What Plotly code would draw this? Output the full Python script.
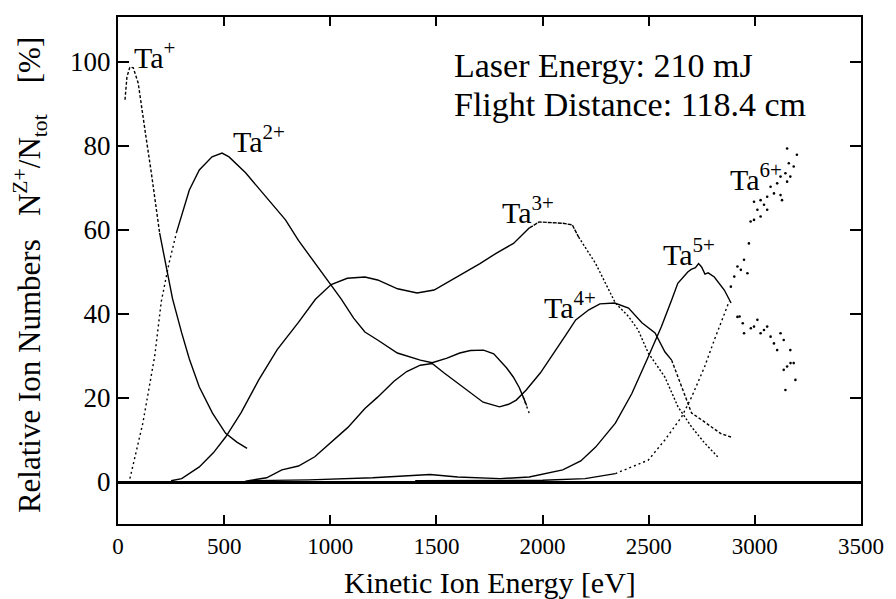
import plotly.graph_objects as go

# ---------------- data ----------------
ta1_x = [33, 42, 56, 72, 95, 110, 134, 157, 180, 196, 229, 257, 300, 336, 383, 445, 507, 560, 608]
ta1_y = [91, 96.4, 98.8, 98.6, 95, 89.4, 81.4, 73.6, 65.5, 59.3, 51, 43.6, 35.5, 29.3, 22.6, 16.4, 11.6, 9.5, 8]

ta2_x = [56, 90, 117, 145, 173, 204, 240, 275, 336, 383, 443, 490, 523, 601, 695, 789, 850, 930, 1004,
         1051, 1110, 1163, 1223, 1316, 1424, 1480, 1550, 1610, 1660, 1722, 1770, 1797, 1830, 1862, 1890,
         1909, 1925, 1937]
ta2_y = [0.8, 8, 14, 22, 30, 43, 52, 59.3, 69.5, 74.3, 77.4, 78.3, 77.4, 73.6, 67.9, 62.4, 57.5, 52, 47,
         43.6, 39, 35.7, 33.8, 30.7, 29, 28.4, 29.5, 30.7, 31.3, 31.4, 30.5, 29, 27.2, 25, 22.5,
         20.2, 18.2, 16.4]

ta3_x = [250, 300, 383, 450, 507, 580, 663, 750, 850, 930, 1004, 1080, 1163, 1223, 1317, 1409, 1489, 1550,
         1657, 1705, 1783, 1863, 1938, 1984, 2096, 2140, 2170, 2250, 2343, 2405, 2450, 2498, 2576, 2638,
         2702, 2763, 2825]
ta3_y = [0.3, 0.8, 3.6, 7, 10.7, 16.5, 24.3, 31.5, 38, 43.5, 47, 48.5, 48.8, 48.1, 46, 45, 45.7, 47.5,
         50.5, 52, 54.5, 56.8, 60.5, 61.9, 61.6, 61.2, 58.3, 52, 42.6, 39.4, 36.2, 30.7, 25, 17.9,
         13.1, 9.3, 6]

ta4_x = [600, 700, 772, 850, 927, 1004, 1083, 1163, 1223, 1300, 1360, 1424, 1480, 1535, 1600, 1657, 1720,
         1797, 1840, 1876, 1923, 1990, 2063, 2110, 2156, 2218, 2270, 2311, 2340, 2405, 2468, 2530, 2576,
         2608, 2655, 2702, 2749, 2795, 2840, 2888]
ta4_y = [0.2, 1, 2.9, 3.8, 6, 9.5, 13, 17.5, 20.2, 24, 26.3, 27.8, 28.2, 26, 23.5, 21.2, 19,
         17.9, 18.5, 19.5, 21.9, 26, 31.4, 35, 38.6, 41, 42.4, 42.6, 42.6, 41.4, 37.9, 35.5, 31,
         29, 22.6, 16.4, 14.8, 13.1, 11.5, 10.7]

ta5_x = [620, 900, 1200, 1350, 1470, 1600, 1800, 1937, 2095, 2180, 2250, 2343, 2420, 2498, 2560, 2608,
         2637, 2684, 2700, 2720, 2735, 2749, 2765, 2780, 2809, 2856, 2888]
ta5_y = [0.3, 0.5, 1, 1.5, 1.8, 1.2, 0.8, 1.2, 2.9, 5, 8.3, 14, 21, 29.8, 37, 43.3,
         47.3, 50, 50.6, 51, 52, 51.2, 49.5, 49.8, 48.8, 45.7, 42.6]
ta5_tail_x = [2928, 2943, 2949, 2981, 3012, 3027, 3058, 3074, 3090, 3121, 3105, 3136, 3167, 3183, 3152,
              3136, 3191, 3144, 2918, 2996, 3043, 3168]
ta5_tail_y = [39.4, 37.8, 35.4, 36.6, 38.6, 35.4, 37.0, 34.6, 33.0, 35.4, 31.4, 33.8, 31.4, 28.3, 27.5,
              26.7, 24.3, 21.9, 39.3, 37, 36.2, 28.3]

ta6_x = [1400, 1700, 2000, 2200, 2343, 2420, 2498, 2576, 2655, 2702, 2763, 2809, 2856, 2879]
ta6_y = [0.3, 0.3, 0.4, 0.8, 2, 3.5, 5.2, 10, 15.5, 20.2, 27.4, 33.8, 40.2, 43]
ta6_tail_x = [2887, 2903, 2918, 2934, 2949, 2965, 2972, 2980, 2996, 3012, 3027, 3043, 3058, 3027, 2996,
              3058, 3074, 3090, 3121, 3128, 3105, 3152, 3121, 3144, 3167, 3160, 3183, 3152, 3198]
ta6_tail_y = [46.5, 48.9, 51.3, 50.5, 52.9, 49.7, 56.8, 62.0, 62.4, 64.8, 63.2, 66.0, 64.8, 67.1, 66.7,
              67.9, 70.3, 68.7, 68.3, 67.1, 71.1, 71.5, 72.7, 73.5, 72.7, 75.9, 75.1, 79.4, 77.9]

x_ticks = [0, 500, 1000, 1500, 2000, 2500, 3000, 3500]
y_ticks = [0, 20, 40, 60, 80, 100]

ion_labels = ["Ta<sup>+</sup>", "Ta<sup>2+</sup>", "Ta<sup>3+</sup>", "Ta<sup>4+</sup>",
              "Ta<sup>5+</sup>", "Ta<sup>6+</sup>"]
label_x = [70, 535, 1806, 2002, 2562, 2880]       # left edge of label (eV)
label_base = [98.5, 78.5, 61.5, 39, 51.5, 69.5]   # baseline of label (%)

info_lines = ["Laser Energy: 210 mJ", "Flight Distance: 118.4 cm"]

# ---------------- figure ----------------
FONT = "Liberation Serif"
fig = go.Figure()

def line(xs, ys, dash="solid", width=1.4):
    fig.add_trace(go.Scatter(x=xs, y=ys, mode="lines",
                             line=dict(color="black", width=width, dash=dash)))

def split(xs, ys, lo, hi):
    pts = [(a, b) for a, b in zip(xs, ys) if lo <= a <= hi]
    return [p[0] for p in pts], [p[1] for p in pts]

def dots(xs, ys):
    fig.add_trace(go.Scatter(x=xs, y=ys, mode="markers",
                             marker=dict(color="black", size=2.6)))

# Ta+
line(*split(ta1_x, ta1_y, 0, 200), dash="3px,2px")
line(*split(ta1_x, ta1_y, 196, 9999))
# Ta2+
line(*split(ta2_x, ta2_y, 0, 275), dash="2px,3px")
line(*split(ta2_x, ta2_y, 275, 1925))
line(*split(ta2_x, ta2_y, 1909, 9999), dash="2px,3px")
# Ta3+
line(*split(ta3_x, ta3_y, 0, 1938))
line(*split(ta3_x, ta3_y, 1938, 2170), dash="4px,1px")
line(*split(ta3_x, ta3_y, 2170, 9999), dash="2px,2px")
# Ta4+
line(*split(ta4_x, ta4_y, 0, 2608))
line(*split(ta4_x, ta4_y, 2608, 9999), dash="3px,2px")
# Ta5+
line(ta5_x, ta5_y)
dots(ta5_tail_x, ta5_tail_y)
# Ta6+
line(*split(ta6_x, ta6_y, 0, 2343))
line(*split(ta6_x, ta6_y, 2343, 9999), dash="2px,3px")
dots(ta6_tail_x, ta6_tail_y)

# ion labels (yanchor bottom: bottom = baseline + descent)
LFS = 30
px_per_unit = 4.2
for t, lx, lb in zip(ion_labels, label_x, label_base):
    fig.add_annotation(x=lx, y=lb - 0.216 * LFS / px_per_unit, text=t, showarrow=False,
                       xanchor="left", yanchor="bottom", borderpad=0,
                       font=dict(family=FONT, size=LFS))

# info text
IFS = 34
for txt, base in zip(info_lines, [(482 - 78) / 4.2, (482 - 117) / 4.2]):
    fig.add_annotation(x=(457 - 118) * 3500 / 752, y=base - 0.216 * IFS / px_per_unit, text=txt,
                       showarrow=False, xanchor="left", yanchor="bottom", borderpad=0,
                       font=dict(family=FONT, size=IFS))

# axis titles
fig.add_annotation(xref="paper", yref="paper", x=0.5, y=(524 - 582) / 507,
                   text="Kinetic Ion Energy [eV]", showarrow=False,
                   xanchor="center", yanchor="middle", borderpad=0,
                   font=dict(family=FONT, size=30))
fig.add_annotation(xref="paper", yref="paper", x=(29 - 118) / 752, y=(524 - 275) / 507,
                   text="Relative Ion Numbers   N<sup>Z+</sup>/N<sub>tot</sub>    [%]",
                   textangle=-90, showarrow=False,
                   xanchor="center", yanchor="middle", borderpad=0,
                   font=dict(family=FONT, size=31))

fig.update_xaxes(range=[0, 3500], tickvals=x_ticks, ticktext=[str(v) for v in x_ticks],
                 ticks="inside", ticklen=9, tickwidth=1.5, tickcolor="black",
                 showline=True, linecolor="black", linewidth=2, mirror="ticks",
                 showgrid=False, zeroline=False,
                 tickfont=dict(family=FONT, size=23))
fig.update_yaxes(range=[-10, 110.7], tickvals=y_ticks, ticktext=[str(v) for v in y_ticks],
                 ticks="inside", ticklen=11, tickwidth=1.5, tickcolor="black",
                 showline=True, linecolor="black", linewidth=2, mirror="ticks",
                 showgrid=False, zeroline=True, zerolinecolor="black", zerolinewidth=2.5,
                 tickfont=dict(family=FONT, size=27))

fig.update_layout(width=896, height=599, margin=dict(l=118, r=26, t=17, b=75),
                  font=dict(color="black"),
                  paper_bgcolor="white", plot_bgcolor="white", showlegend=False)

fig.write_html("out.html")
